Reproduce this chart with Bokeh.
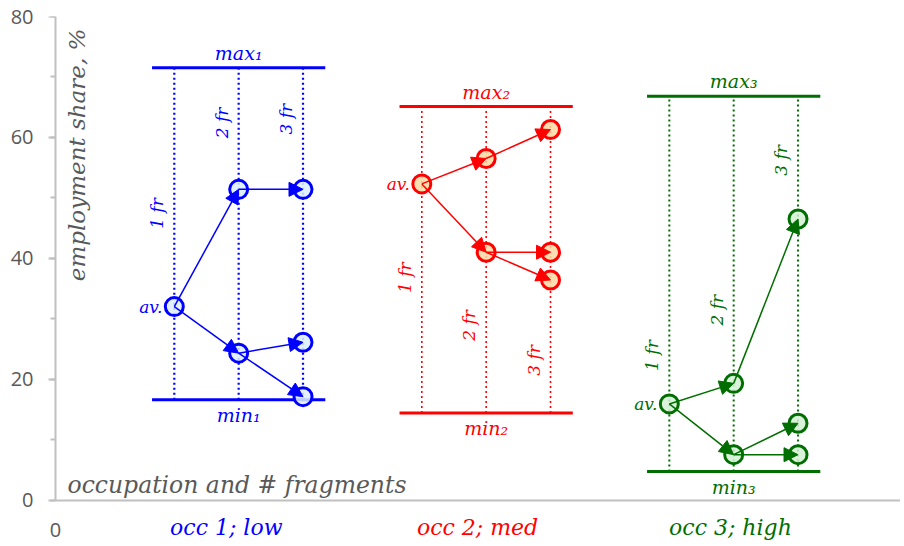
import math
from bokeh.plotting import figure
from bokeh.models import (ColumnDataSource, Arrow, NormalHead, LinearAxis,
                          FixedTicker, Range1d, SingleIntervalTicker)
from bokeh.core.properties import value
from bokeh.embed import file_html
from bokeh.resources import INLINE

# ---------------- data ----------------
groups = ["occ 1; low", "occ 2; med", "occ 3; high"]
group_pos = [1, 2, 3]
frag_labels = ["1 fr", "2 fr", "3 fr"]
max_labels = ["max\u2081", "max\u2082", "max\u2083"]
min_labels = ["min\u2081", "min\u2082", "min\u2083"]
max_vals = [71.5, 65.1, 66.8]
min_vals = [16.6, 14.4, 4.7]
av_vals = [32.0, 52.3, 15.9]
fr2_vals = [[51.4, 24.3], [56.5, 41.0], [19.3, 7.5]]
fr3_vals = [[51.4, 26.1, 17.1], [61.3, 41.0, 36.4], [46.5, 12.7, 7.5]]
fr3_parent = [0, 1, 1]          # which 2-fragment point each 3-fragment point comes from
x_tick_labels = ["0"]

# ---------------- layout / style ----------------
colors = ["#0000ff", "#ff0000", "#006e00"]
fills = ["#dcefff", "#fcd9a2", "#d4f0d4"]
dot_widths = [2.2, 1.6, 2.0]
frag_offsets = [-0.52, -0.26, 0.0]
line_left, line_right = -0.61, 0.09
fr_label_y = [[47.4, 62.4, 63.0], [36.8, 28.9, 23.1], [23.9, 31.4, 56.2]]
cat_label_dx = [-0.31, -0.295, -0.273]
cat_label_y = -4.55
X_START, X_END = -0.03636, 3.414
SERIF = value("DejaVu Serif")
GRAY = "#595959"
AXIS_GRAY = "#c0c0c0"

p = figure(width=900, height=546, output_backend="svg", toolbar_location=None,
           x_range=Range1d(X_START, X_END), y_range=Range1d(-7.03, 80),
           min_border_left=46, min_border_right=0, min_border_top=16, min_border_bottom=4,
           x_axis_type=None, y_axis_type=None)
p.outline_line_color = None
p.xgrid.visible = False
p.ygrid.visible = False

# y axis tick labels (at the frame edge)
ylab = LinearAxis(ticker=SingleIntervalTicker(interval=20, num_minor_ticks=2), bounds=(0, 80))
ylab.axis_line_color = None
ylab.major_tick_line_color = None
ylab.minor_tick_line_color = None
ylab.major_tick_in = 0
ylab.major_tick_out = 0
ylab.minor_tick_in = 0
ylab.minor_tick_out = 0
ylab.major_label_standoff = 13
ylab.major_label_text_font = "Open Sans"
ylab.major_label_text_font_size = "20px"
ylab.major_label_text_color = GRAY
p.add_layout(ylab, "left")

# y axis line and ticks at x = 0
yline = LinearAxis(ticker=SingleIntervalTicker(interval=20, num_minor_ticks=2),
                   bounds=(0, 80), fixed_location=0)
yline.axis_line_color = AXIS_GRAY
yline.axis_line_width = 2
yline.major_tick_line_color = AXIS_GRAY
yline.minor_tick_line_color = AXIS_GRAY
yline.major_tick_line_width = 2
yline.minor_tick_line_width = 2
yline.major_tick_in = 0
yline.major_tick_out = 7
yline.minor_tick_in = 0
yline.minor_tick_out = 5
p.add_layout(yline, "left")

xaxis = LinearAxis(ticker=FixedTicker(ticks=[]), fixed_location=0, bounds=(0, X_END))
xaxis.axis_line_color = AXIS_GRAY
xaxis.axis_line_width = 2
xaxis.major_tick_line_color = None
xaxis.minor_tick_line_color = None
xaxis.major_tick_in = 0
xaxis.major_tick_out = 0
p.add_layout(xaxis, "below")

# x tick label "0" below the axis line
p.text(x=[0], y=[0], text=x_tick_labels, y_offset=30,
       text_font=value("Open Sans"), text_font_size="20px", text_color=GRAY,
       text_align="center", text_baseline="middle")

for gi, g in enumerate(group_pos):
    c = colors[gi]
    xs = [g + o for o in frag_offsets]
    # dotted fragment verticals
    p.segment(x0=xs, x1=xs, y0=[min_vals[gi]] * 3, y1=[max_vals[gi]] * 3,
              line_color=c, line_width=dot_widths[gi], line_dash="2 3")
    # max / min lines
    p.segment(x0=[g + line_left] * 2, x1=[g + line_right] * 2,
              y0=[max_vals[gi], min_vals[gi]], y1=[max_vals[gi], min_vals[gi]],
              line_color=c, line_width=3)
    # points
    px = [xs[0]] + [xs[1]] * len(fr2_vals[gi]) + [xs[2]] * len(fr3_vals[gi])
    py = [av_vals[gi]] + fr2_vals[gi] + fr3_vals[gi]
    p.scatter(px, py, size=18, line_color=c, line_width=3, fill_color=fills[gi], fill_alpha=0.85)
    # arrows
    xs0, ys0, xs1, ys1 = [], [], [], []
    for v in fr2_vals[gi]:
        xs0.append(xs[0]); ys0.append(av_vals[gi]); xs1.append(xs[1]); ys1.append(v)
    for k, v in enumerate(fr3_vals[gi]):
        xs0.append(xs[1]); ys0.append(fr2_vals[gi][fr3_parent[k]]); xs1.append(xs[2]); ys1.append(v)
    src = ColumnDataSource(dict(x0=xs0, y0=ys0, x1=xs1, y1=ys1))
    p.add_layout(Arrow(source=src, x_start="x0", y_start="y0", x_end="x1", y_end="y1",
                       line_color=c, line_width=1.5,
                       end=NormalHead(size=14, fill_color=c, line_color=c, line_width=1)))
    # texts
    p.text(x=[g + frag_offsets[1]], y=[max_vals[gi]], text=[max_labels[gi]], y_offset=-15,
           text_font=SERIF, text_font_style="italic", text_font_size="19px", text_color=c,
           text_align="center", text_baseline="middle")
    p.text(x=[g + frag_offsets[1]], y=[min_vals[gi]], text=[min_labels[gi]], y_offset=15,
           text_font=SERIF, text_font_style="italic", text_font_size="19px", text_color=c,
           text_align="center", text_baseline="middle")
    p.text(x=[xs[0]], y=[av_vals[gi]], text=["av."], x_offset=-12,
           text_font=SERIF, text_font_style="italic", text_font_size="17px", text_color=c,
           text_align="right", text_baseline="middle")
    p.text(x=xs, y=fr_label_y[gi], text=frag_labels, x_offset=-17, angle=math.pi / 2,
           text_font=SERIF, text_font_style="italic", text_font_size="17px", text_color=c,
           text_align="center", text_baseline="middle")
    p.text(x=[g + cat_label_dx[gi]], y=[cat_label_y], text=[groups[gi]],
           text_font=SERIF, text_font_style="italic", text_font_size="22px", text_color=c,
           text_align="center", text_baseline="middle")

p.text(x=[0], y=[78.0], text=["employment share, %"], x_offset=22, angle=math.pi / 2,
       text_font=SERIF, text_font_style="italic", text_font_size="23px", text_color=GRAY,
       text_align="right", text_baseline="middle")
p.text(x=[0], y=[0], text=["occupation and # fragments"], x_offset=12, y_offset=-15,
       text_font=SERIF, text_font_style="italic", text_font_size="23.5px", text_color=GRAY,
       text_align="left", text_baseline="middle")

open("out.html", "w").write(file_html(p, INLINE))
